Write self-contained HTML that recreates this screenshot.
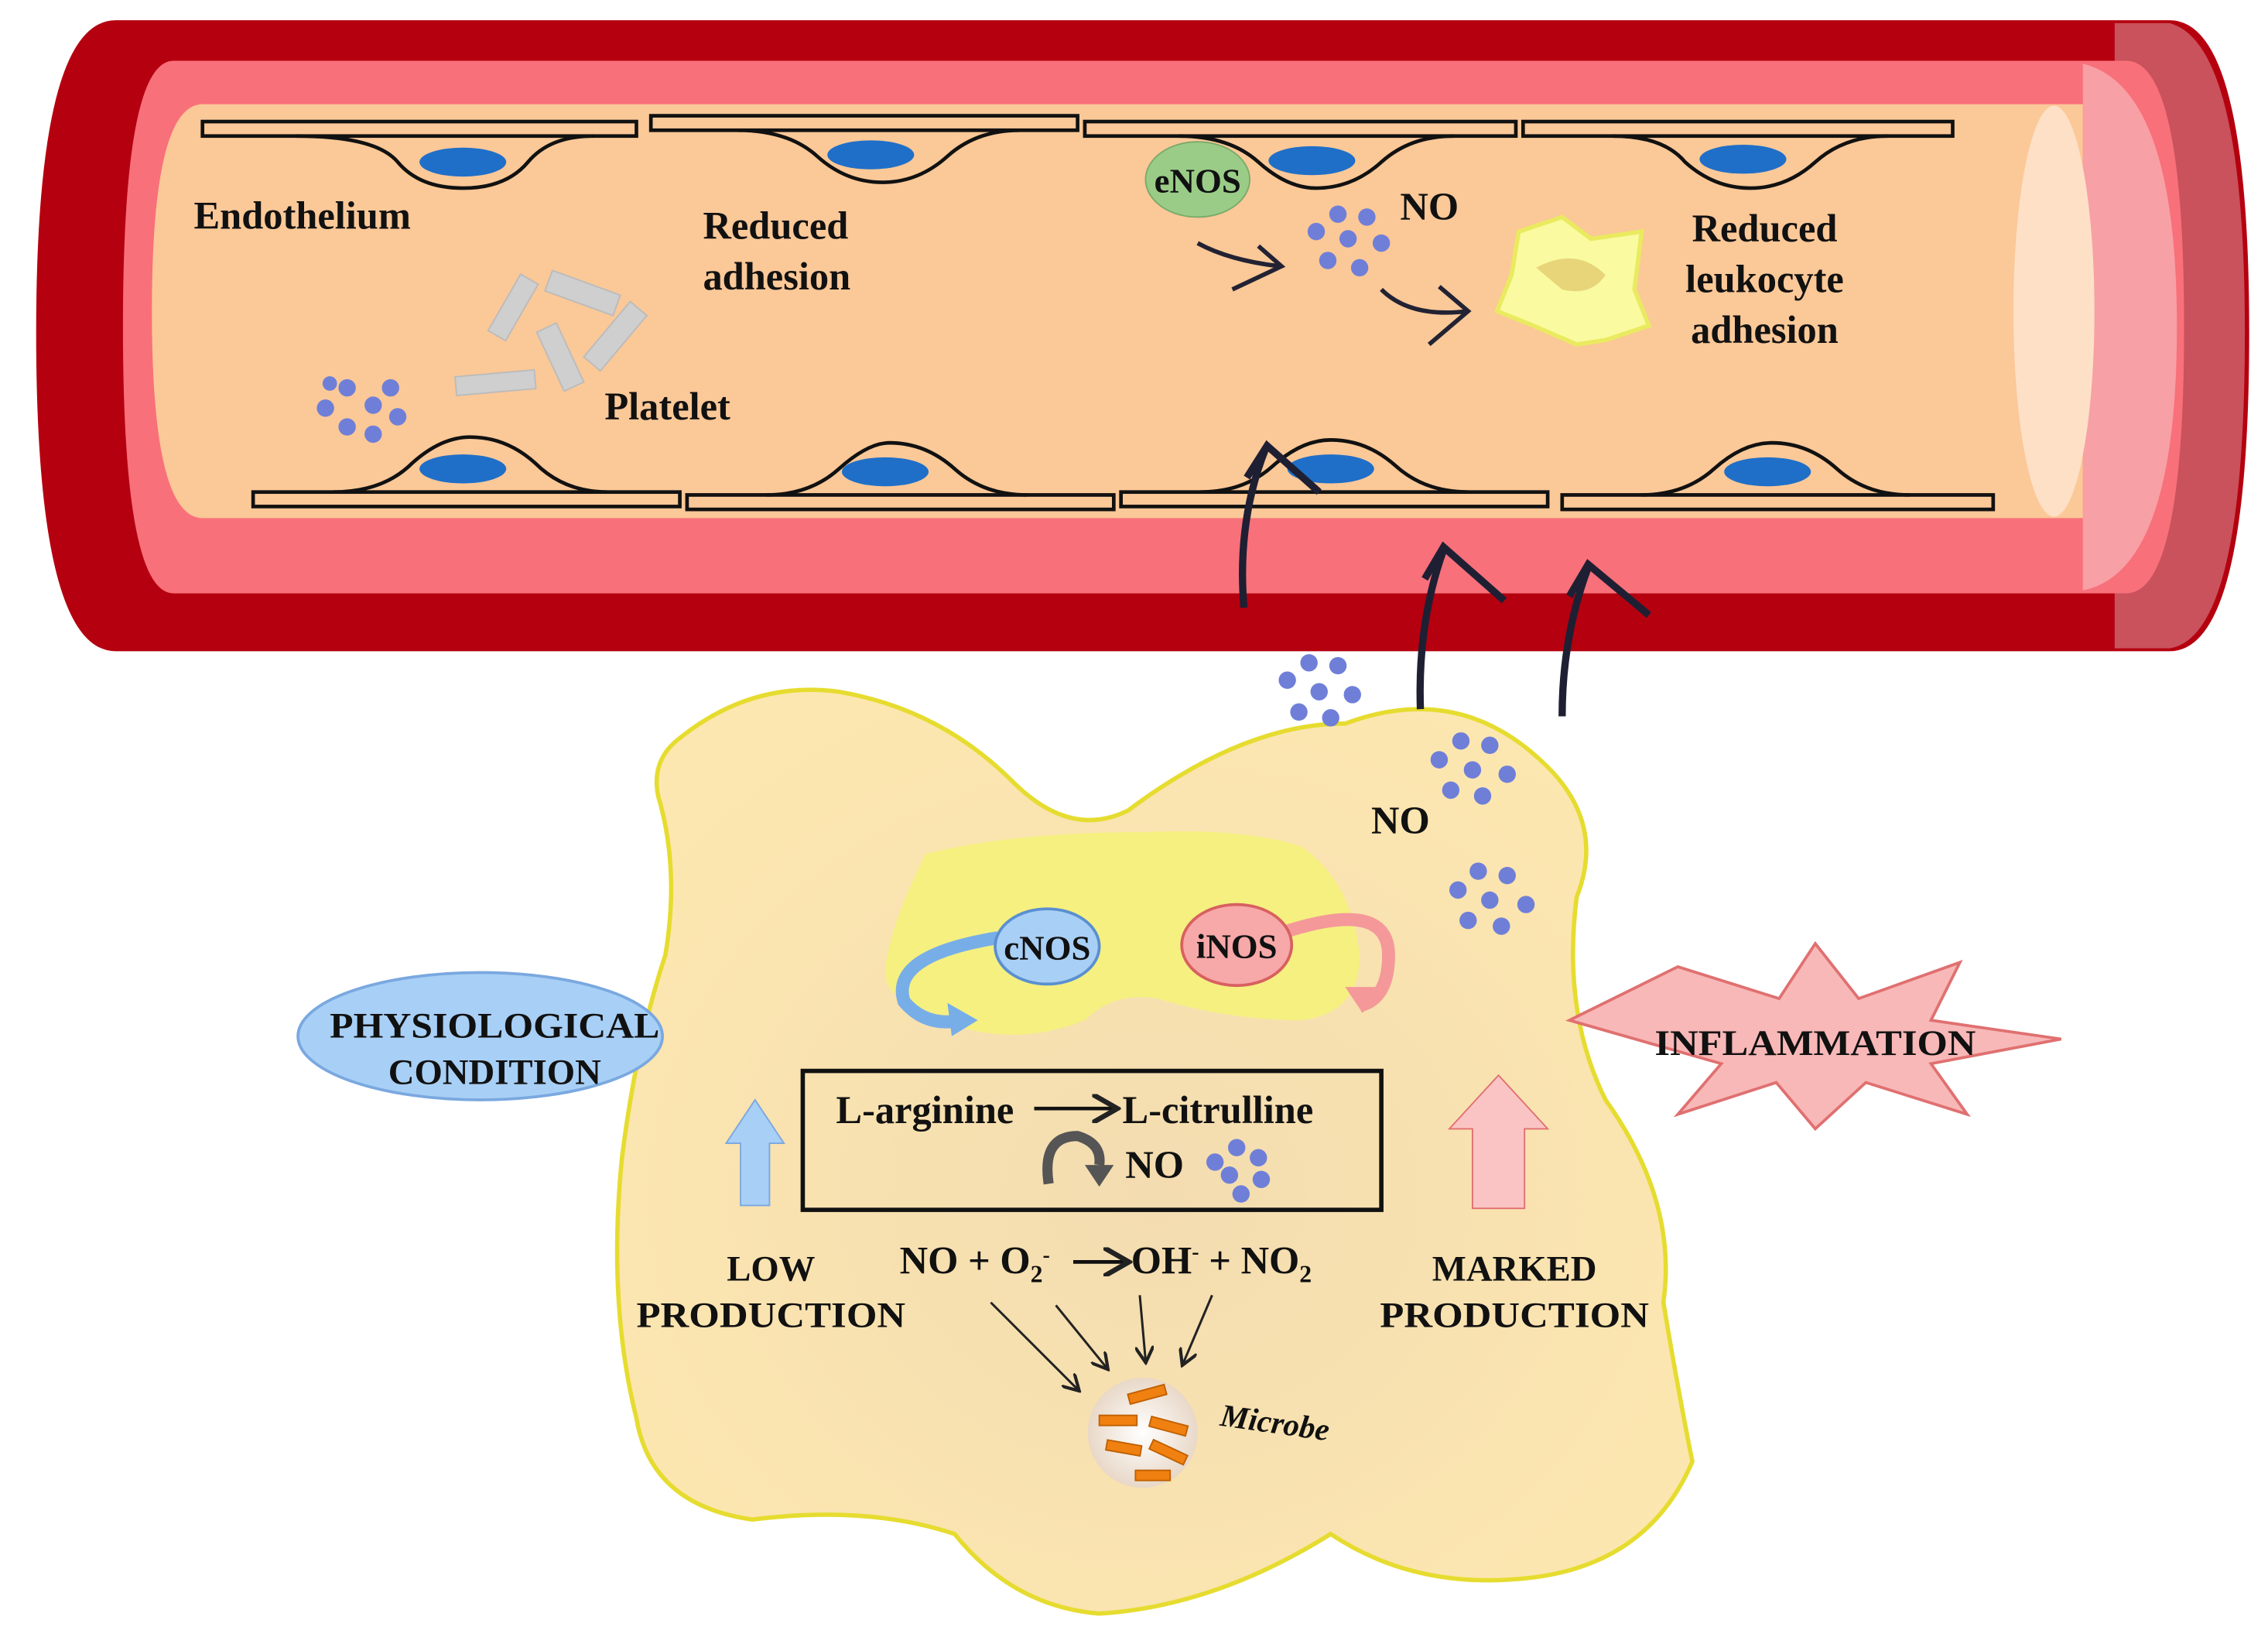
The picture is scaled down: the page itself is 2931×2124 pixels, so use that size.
<!DOCTYPE html>
<html><head><meta charset="utf-8"><style>
html,body{margin:0;padding:0;background:#fff;}
svg{display:block;}
text{font-family:"Liberation Serif",serif;font-weight:bold;fill:#111;}
</style></head><body>
<svg width="2931" height="2124" viewBox="0 0 1568 1136" preserveAspectRatio="none" xmlns="http://www.w3.org/2000/svg">
<defs>
<marker id="ah" markerWidth="8" markerHeight="8" refX="6" refY="4" orient="auto"><path d="M0,0 L7,4 L0,8" fill="none" stroke="#222" stroke-width="1.4"/></marker>
<radialGradient id="cellg" cx="0.5" cy="0.55" r="0.6"><stop offset="0" stop-color="#f3dcb0"/><stop offset="1" stop-color="#fde7b0"/></radialGradient>
<radialGradient id="mic" cx="0.5" cy="0.5" r="0.5"><stop offset="0" stop-color="#fff"/><stop offset="1" stop-color="#e8d8c8"/></radialGradient>
</defs>
<!-- vessel -->
<path d="M80,14 L1500,14 Q1555,14 1555,230 Q1555,450 1500,450 L80,450 Q25,450 25,230 Q25,14 80,14Z" fill="#b5000f"/>
<path d="M1462,16 L1500,16 Q1552,30 1552,230 Q1552,440 1500,448 L1462,448 Z" fill="#c9525c"/>
<path d="M120,42 L1470,42 Q1510,42 1510,226 Q1510,410 1470,410 L120,410 Q85,410 85,226 Q85,42 120,42Z" fill="#f8707a"/>
<path d="M1440,44 Q1505,60 1505,226 Q1505,395 1440,408 Z" fill="#f7a0a6"/>
<path d="M140,72 L1440,72 L1440,358 L140,358 Q105,358 105,215 Q105,72 140,72Z" fill="#fbc898"/>
<ellipse cx="1420" cy="215" rx="28" ry="142" fill="#fde0c6"/>
<g fill="none" stroke="#111" stroke-width="2.5">
<rect x="140" y="84" width="300" height="10" fill="#fbc898"/>
<rect x="450" y="80" width="295" height="10" fill="#fbc898"/>
<rect x="750" y="84" width="298" height="10" fill="#fbc898"/>
<rect x="1053" y="84" width="297" height="10" fill="#fbc898"/>
<path d="M205,94 Q260,94 275,112 Q290,130 320,130 Q350,130 365,112 Q380,94 410,94"/>
<path d="M510,90 Q545,90 565,108 Q585,126 610,126 Q635,126 655,108 Q675,90 705,90"/>
<path d="M815,94 Q850,94 870,112 Q890,130 910,130 Q935,130 955,112 Q975,94 1005,94"/>
<path d="M1115,94 Q1150,94 1165,112 Q1185,130 1210,130 Q1235,130 1255,112 Q1275,94 1305,94"/>
<rect x="175" y="340" width="295" height="10" fill="#fbc898"/>
<rect x="475" y="342" width="295" height="10" fill="#fbc898"/>
<rect x="775" y="340" width="295" height="10" fill="#fbc898"/>
<rect x="1080" y="342" width="298" height="10" fill="#fbc898"/>
<path d="M230,340 Q265,340 285,320 Q305,302 325,302 Q350,302 370,320 Q390,340 420,340"/>
<path d="M530,342 Q560,342 580,324 Q600,306 615,306 Q640,306 660,324 Q680,342 710,342"/>
<path d="M830,340 Q860,340 880,322 Q900,304 920,304 Q945,304 965,322 Q985,340 1015,340"/>
<path d="M1135,342 Q1165,342 1185,324 Q1205,306 1225,306 Q1250,306 1270,324 Q1290,342 1320,342"/>
</g>
<g fill="#1f6fc8">
<ellipse cx="320" cy="112" rx="30" ry="10"/><ellipse cx="602" cy="107" rx="30" ry="10"/>
<ellipse cx="907" cy="111" rx="30" ry="10"/><ellipse cx="1205" cy="110" rx="30" ry="10"/>
<ellipse cx="320" cy="324" rx="30" ry="10"/><ellipse cx="612" cy="326" rx="30" ry="10"/>
<ellipse cx="920" cy="324" rx="30" ry="10"/><ellipse cx="1222" cy="326" rx="30" ry="10"/>
</g>
<g fill="#cfcfcf" stroke="#bbb">
<rect x="332" y="205" width="45" height="14" transform="rotate(-60 355 212)"/>
<rect x="378" y="195" width="50" height="15" transform="rotate(20 403 202)"/>
<rect x="365" y="240" width="45" height="15" transform="rotate(65 388 247)"/>
<rect x="400" y="225" width="50" height="15" transform="rotate(-50 425 232)"/>
<rect x="315" y="258" width="55" height="13" transform="rotate(-5 342 264)"/>
</g>
<g fill="#6f7fd8">
<circle cx="225" cy="282" r="6"/><circle cx="240" cy="268" r="6"/><circle cx="258" cy="280" r="6"/><circle cx="270" cy="268" r="6"/><circle cx="275" cy="288" r="6"/><circle cx="240" cy="295" r="6"/><circle cx="258" cy="300" r="6"/><circle cx="228" cy="265" r="5"/>
<circle cx="910" cy="160" r="6"/><circle cx="925" cy="148" r="6"/><circle cx="945" cy="150" r="6"/><circle cx="932" cy="165" r="6"/><circle cx="955" cy="168" r="6"/><circle cx="918" cy="180" r="6"/><circle cx="940" cy="185" r="6"/>
</g>
<ellipse cx="828" cy="124" rx="36" ry="26" fill="#9acc88" stroke="#7aaa6a"/>
<text x="828" y="133" font-size="24" text-anchor="middle">eNOS</text>
<text x="968" y="152" font-size="27">NO</text>
<g fill="none" stroke="#222233" stroke-width="3">
<path d="M828,168 Q850,180 885,184"/><path d="M870,170 L886,184 L852,200"/>
<path d="M955,200 Q975,220 1015,215"/><path d="M995,198 L1015,215 L988,238"/>
</g>
<path d="M1050,160 L1080,150 L1100,165 L1135,160 L1130,200 L1140,225 L1110,235 L1090,238 L1060,225 L1035,215 L1045,190 Z" fill="#fafaa0" stroke="#eaea60" stroke-width="3"/>
<path d="M1062,185 Q1090,170 1110,190 Q1100,205 1080,200 Z" fill="#e8d57a"/>
<text x="134" y="158" font-size="27">Endothelium</text>
<text x="486" y="165" font-size="27">Reduced</text><text x="486" y="200" font-size="27">adhesion</text>
<text x="418" y="290" font-size="27">Platelet</text>
<text x="1220" y="167" font-size="27" text-anchor="middle">Reduced</text>
<text x="1220" y="202" font-size="27" text-anchor="middle">leukocyte</text>
<text x="1220" y="237" font-size="27" text-anchor="middle">adhesion</text>
<!-- cell -->
<path d="M470,510 Q520,470 580,478 Q650,490 700,540 Q740,580 780,560 Q860,500 930,500 Q1010,470 1070,530 Q1110,570 1090,620 Q1080,700 1110,760 Q1160,830 1150,900 Q1160,960 1170,1010 Q1140,1080 1060,1090 Q980,1100 920,1060 Q840,1110 760,1115 Q700,1110 660,1060 Q600,1040 520,1050 Q450,1040 440,980 Q420,900 430,800 Q440,720 460,660 Q470,600 455,550 Q450,525 470,510Z" fill="url(#cellg)" stroke="#e6dc30" stroke-width="3"/>
<path d="M640,590 Q700,575 790,575 Q860,572 900,585 Q935,610 940,660 Q940,700 900,705 Q850,705 800,690 Q770,685 750,705 Q700,725 650,705 Q610,690 612,670 Q615,640 640,590 Z" fill="#f5f080"/>
<g fill="#6f7fd8">
<circle cx="890" cy="470" r="6"/><circle cx="905" cy="458" r="6"/><circle cx="925" cy="460" r="6"/><circle cx="912" cy="478" r="6"/><circle cx="935" cy="480" r="6"/><circle cx="898" cy="492" r="6"/><circle cx="920" cy="496" r="6"/>
<circle cx="995" cy="525" r="6"/><circle cx="1010" cy="512" r="6"/><circle cx="1030" cy="515" r="6"/><circle cx="1018" cy="532" r="6"/><circle cx="1042" cy="535" r="6"/><circle cx="1003" cy="546" r="6"/><circle cx="1025" cy="550" r="6"/>
<circle cx="1008" cy="615" r="6"/><circle cx="1022" cy="602" r="6"/><circle cx="1042" cy="605" r="6"/><circle cx="1030" cy="622" r="6"/><circle cx="1055" cy="625" r="6"/><circle cx="1015" cy="636" r="6"/><circle cx="1038" cy="640" r="6"/>
<circle cx="840" cy="803" r="6"/><circle cx="855" cy="793" r="6"/><circle cx="870" cy="800" r="6"/><circle cx="850" cy="812" r="6"/><circle cx="872" cy="815" r="6"/><circle cx="858" cy="825" r="6"/>
</g>
<text x="948" y="576" font-size="27">NO</text>
<g fill="none" stroke="#1f1f33" stroke-width="5">
<path d="M860,420 Q855,360 875,310"/><path d="M862,330 L876,308 L912,340"/>
<path d="M982,490 Q980,430 998,380"/><path d="M985,400 L998,378 L1040,415"/>
<path d="M1080,495 Q1080,440 1098,392"/><path d="M1085,412 L1098,390 L1140,425"/>
</g>
<path d="M690,648 Q615,660 625,692 Q640,710 665,705" fill="none" stroke="#78aee8" stroke-width="9"/>
<path d="M655,693 L676,705 L658,716Z" fill="#78aee8"/>
<ellipse cx="724" cy="654" rx="36" ry="26" fill="#a8cff5" stroke="#5a8fd0" stroke-width="2"/>
<text x="724" y="663" font-size="24" text-anchor="middle">cNOS</text>
<path d="M885,645 Q960,620 960,660 Q960,690 940,695" fill="none" stroke="#f4989a" stroke-width="9"/>
<path d="M930,682 L942,700 L958,682Z" fill="#f4989a"/>
<ellipse cx="855" cy="653" rx="38" ry="28" fill="#f7a8a8" stroke="#d86060" stroke-width="2"/>
<text x="855" y="662" font-size="24" text-anchor="middle">iNOS</text>
<rect x="555" y="740" width="400" height="96" fill="none" stroke="#111" stroke-width="3"/>
<text x="578" y="776" font-size="27">L-arginine</text>
<line x1="715" y1="766" x2="770" y2="766" stroke="#111" stroke-width="2.5" marker-end="url(#ah)"/>
<text x="776" y="776" font-size="27">L-citrulline</text>
<path d="M725,818 Q720,785 745,785 Q762,790 760,805" fill="none" stroke="#555" stroke-width="7"/>
<path d="M750,805 L770,805 L760,820Z" fill="#555"/>
<text x="778" y="814" font-size="27">NO</text>
<path d="M512,833 L512,790 L502,790 L522,760 L542,790 L532,790 L532,833Z" fill="#a8cff5" stroke="#7aa8e0"/>
<path d="M1018,835 L1018,780 L1002,780 L1036,743 L1070,780 L1054,780 L1054,835Z" fill="#fbc4c4" stroke="#e07070"/>
<ellipse cx="332" cy="716" rx="126" ry="44" fill="#a8cff5" stroke="#7aa8e0" stroke-width="2"/>
<text x="342" y="717" font-size="25" text-anchor="middle" textLength="228" lengthAdjust="spacingAndGlyphs">PHYSIOLOGICAL</text>
<text x="342" y="749" font-size="25" text-anchor="middle">CONDITION</text>
<path d="M1085,705 L1160,668 L1230,690 L1255,652 L1285,690 L1355,665 L1335,705 L1425,718 L1335,735 L1360,770 L1290,748 L1255,780 L1228,748 L1160,770 L1190,735 Z" fill="#f8b8b8" stroke="#e07070" stroke-width="2"/>
<text x="1255" y="729" font-size="25" text-anchor="middle" textLength="222" lengthAdjust="spacingAndGlyphs">INFLAMMATION</text>
<text x="533" y="885" font-size="25" text-anchor="middle">LOW</text>
<text x="533" y="917" font-size="25" text-anchor="middle" textLength="186" lengthAdjust="spacingAndGlyphs">PRODUCTION</text>
<text x="1047" y="885" font-size="25" text-anchor="middle">MARKED</text>
<text x="1047" y="917" font-size="25" text-anchor="middle" textLength="186" lengthAdjust="spacingAndGlyphs">PRODUCTION</text>
<text x="622" y="880" font-size="27">NO + O<tspan font-size="17" dy="6">2</tspan><tspan font-size="15" dy="-14">-</tspan></text>
<line x1="742" y1="872" x2="778" y2="872" stroke="#111" stroke-width="2.5" marker-end="url(#ah)"/>
<text x="782" y="880" font-size="27">OH<tspan font-size="15" dy="-10">-</tspan><tspan dy="10"> + NO</tspan><tspan font-size="17" dy="6">2</tspan></text>
<g stroke="#222" stroke-width="1.6" marker-end="url(#ah)">
<line x1="685" y1="900" x2="745" y2="960"/><line x1="730" y1="902" x2="765" y2="945"/>
<line x1="788" y1="895" x2="792" y2="940"/><line x1="838" y1="895" x2="818" y2="942"/>
</g>
<circle cx="790" cy="990" r="38" fill="url(#mic)"/>
<g fill="#f08010" stroke="#c06000">
<rect x="780" y="960" width="26" height="7" transform="rotate(-15 793 963)"/>
<rect x="760" y="978" width="26" height="7"/>
<rect x="795" y="982" width="26" height="7" transform="rotate(15 808 985)"/>
<rect x="765" y="997" width="24" height="7" transform="rotate(10 777 1000)"/>
<rect x="795" y="1000" width="26" height="7" transform="rotate(25 808 1003)"/>
<rect x="785" y="1016" width="24" height="7"/>
</g>
<text x="843" y="985" font-size="22" font-style="italic" transform="rotate(8 843 985)">Microbe</text>
</svg>
</body></html>
